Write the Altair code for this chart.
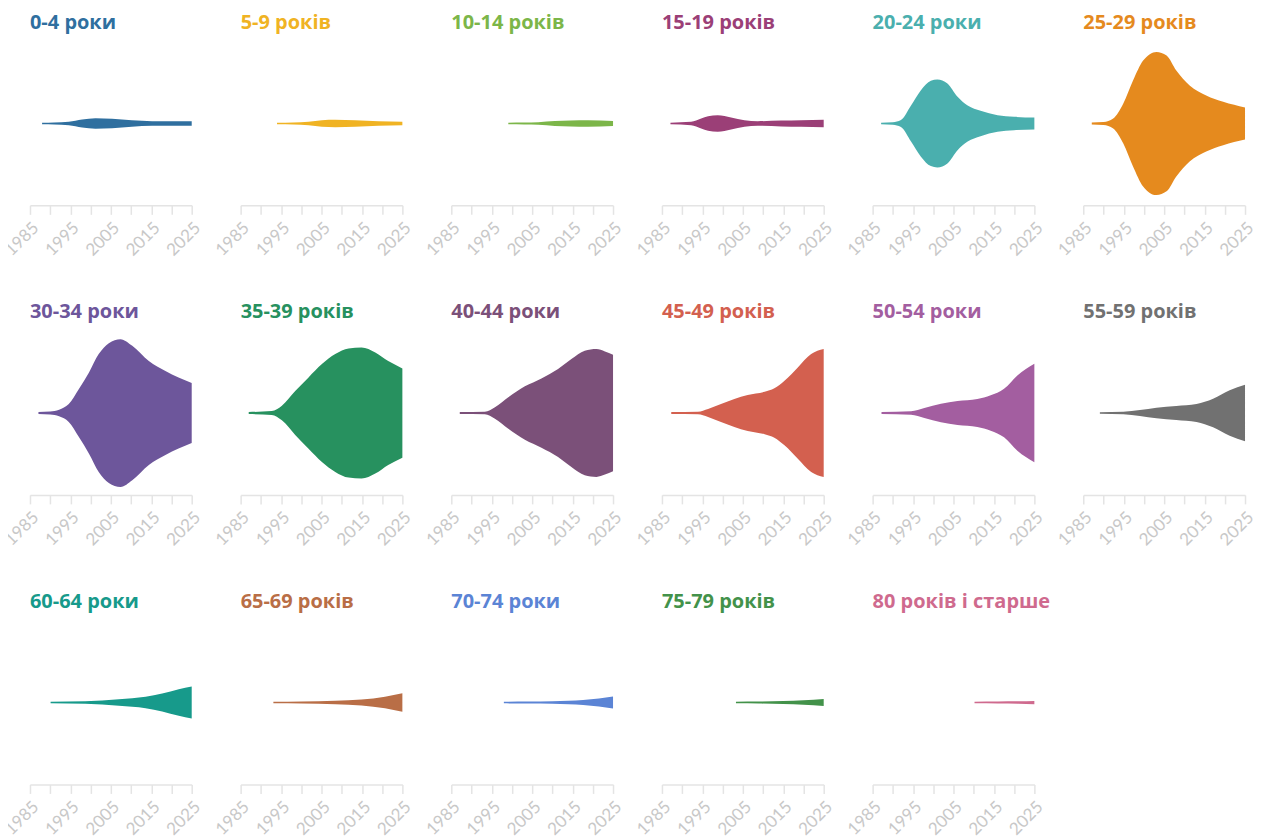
import altair as alt
import pandas as pd

# Half-width of each violin (relative units), per year
Y_00_04 = [1988, 1991, 1994.6, 1997.9, 2001.2, 2005.3, 2010.2, 2015.2, 2020, 2025]
V_00_04 = [0.8, 1.0, 1.7, 4.0, 5.2, 4.7, 3.3, 2.3, 2.2, 2.2]
Y_05_09 = [1994, 1998, 2001.8, 2005.1, 2008.4, 2013.3, 2019.1, 2025]
V_05_09 = [0.8, 1.0, 1.7, 3.3, 3.7, 3.3, 2.3, 1.8]
Y_10_14 = [1999.1, 2003, 2006.5, 2010.6, 2014.5, 2018.8, 2025]
V_10_14 = [0.8, 1.0, 1.3, 2.5, 3.0, 3.3, 2.5]
Y_15_19 = [1987.1, 1992.2, 1994.7, 1996.4, 1998.8, 2002.1, 2005.4, 2008.7, 2014.5, 2019.4, 2025]
V_15_19 = [0.8, 1.7, 5.0, 7.3, 8.3, 6.0, 3.3, 2.3, 3.0, 3.3, 3.7]
Y_20_24 = [1987.1, 1990, 1992.0, 1994.5, 1996.9, 1999.4, 2001.0, 2003.5, 2006.0, 2008.5, 2011.7, 2015.9, 2020.0, 2025]
V_20_24 = [0.8, 1.3, 3.5, 18, 33, 42.7, 44, 40, 26.7, 18, 12.7, 8.3, 6.7, 6.0]
Y_25_29 = [1987.1, 1990, 1992.4, 1994.9, 1997.3, 1999.8, 2003.1, 2005.6, 2008.0, 2011.3, 2015.4, 2019.6, 2025]
V_25_29 = [1.0, 1.5, 5, 20, 43, 63, 71.7, 68, 53, 38, 28, 21.7, 16]
Y_30_34 = [1987.1, 1990, 1992.2, 1994.6, 1997.1, 1999.6, 2002.0, 2004.5, 2007.4, 2010.3, 2014.4, 2018.5, 2025]
V_30_34 = [1.0, 1.5, 3.3, 9, 24, 40.7, 59, 70, 74, 67.3, 52, 42, 30]
Y_35_39 = [1987, 1992.7, 1995.2, 1998.5, 2001.8, 2005.1, 2008.4, 2011.7, 2014.9, 2018.3, 2021.5, 2025]
V_35_39 = [1.0, 2.0, 7.3, 22, 35.7, 49, 59, 64.7, 65.7, 60.7, 52, 44.7]
Y_40_44 = [1987.1, 1993.3, 1995.8, 1999.1, 2003.2, 2007.3, 2011.4, 2014.7, 2018.0, 2020.9, 2023, 2025]
V_40_44 = [1.0, 1.3, 5.7, 15.7, 26.7, 34.7, 44, 54, 62.3, 64, 61.7, 58.3]
Y_45_49 = [1987.3, 1993.9, 1996.4, 1999.6, 2002.9, 2006.2, 2010.4, 2012.8, 2015.3, 2018.6, 2021.9, 2025]
V_45_49 = [1.0, 1.3, 4, 9, 14, 18, 21.3, 24.7, 32.3, 45.7, 59, 64]
Y_50_54 = [1987.2, 1994.5, 1997.8, 2001.9, 2006.0, 2010.9, 2014.2, 2017.5, 2020.8, 2025]
V_50_54 = [1.0, 1.7, 5, 9.3, 12, 14, 17.7, 24.3, 37.7, 49.3]
Y_55_59 = [1989.1, 1994.9, 1999.0, 2003.1, 2008.0, 2013.0, 2017.1, 2021.2, 2025]
V_55_59 = [0.8, 1.3, 3, 5.3, 7, 9, 14.3, 22.7, 28.3]
Y_60_64 = [1990.1, 1998.7, 2007, 2013.6, 2017.7, 2021.8, 2025]
V_60_64 = [0.8, 1.3, 3.3, 5.7, 9, 13.3, 16]
Y_65_69 = [1993.1, 2000.1, 2008.4, 2014.9, 2020.7, 2025]
V_65_69 = [0.8, 1.0, 1.7, 3.0, 5.8, 9.3]
Y_70_74 = [1998, 2004, 2010, 2014, 2017.6, 2021.5, 2025]
V_70_74 = [0.8, 1.0, 1.3, 1.8, 2.5, 4.0, 6.0]
Y_75_79 = [2003.3, 2009, 2015, 2020, 2025]
V_75_79 = [0.8, 1.0, 1.5, 2.3, 3.5]
Y_80 = [2010.2, 2016, 2021, 2025]
V_80 = [0.8, 1.0, 1.2, 1.6]

LABELS = ["0-4 роки", "5-9 років", "10-14 років", "15-19 років", "20-24 роки", "25-29 років",
          "30-34 роки", "35-39 років", "40-44 роки", "45-49 років", "50-54 роки", "55-59 років",
          "60-64 роки", "65-69 років", "70-74 роки", "75-79 років", "80 років і старше"]
COLORS = ["#2f6f9f", "#f0b323", "#7cb649", "#9b3f77", "#4aafae", "#e58a1e",
          "#6d569b", "#27915f", "#7b5079", "#d3604f", "#a35ea0", "#717171",
          "#179a8b", "#b96e46", "#5b84d5", "#43924a", "#cf6a8e"]
YEARS = [Y_00_04, Y_05_09, Y_10_14, Y_15_19, Y_20_24, Y_25_29, Y_30_34, Y_35_39, Y_40_44,
         Y_45_49, Y_50_54, Y_55_59, Y_60_64, Y_65_69, Y_70_74, Y_75_79, Y_80]
VALUES = [V_00_04, V_05_09, V_10_14, V_15_19, V_20_24, V_25_29, V_30_34, V_35_39, V_40_44,
          V_45_49, V_50_54, V_55_59, V_60_64, V_65_69, V_70_74, V_75_79, V_80]

TICKS = [1985, 1990, 1995, 2000, 2005, 2010, 2015, 2020, 2025]
TITLE_FONT = "Open Sans"
LABEL_FONT = "Lato"

charts = []
for label, color, yrs, vals in zip(LABELS, COLORS, YEARS, VALUES):
    df = pd.DataFrame({"year": yrs, "v": vals})
    c = (
        alt.Chart(df)
        .transform_calculate(lo="-datum.v")
        .mark_area(interpolate="monotone", color=color, opacity=1)
        .encode(
            x=alt.X("year:Q",
                    scale=alt.Scale(domain=[1985, 2025], nice=False, zero=False),
                    axis=alt.Axis(values=TICKS, title=None, grid=False,
                                  labelExpr="(datum.value - 1985) % 10 == 0 ? datum.value : ''",
                                  labelAngle=-45, labelColor="#c8c8c8", labelFontSize=17,
                                  labelFont=LABEL_FONT, labelPadding=5,
                                  tickColor="#e4e4e4", tickSize=9, tickWidth=1.5,
                                  domainColor="#e4e4e4", domainWidth=1.5,
                                  labelOverlap=False, labelFlush=False)),
            y=alt.Y("v:Q", scale=alt.Scale(domain=[-82, 82]), axis=None),
            y2="lo:Q",
        )
        .properties(
            width=162, height=164,
            title=alt.TitleParams(label, color=color, anchor="start", fontSize=20,
                                  font=TITLE_FONT, fontWeight="bold", offset=9,
                                  frame="group"),
        )
    )
    charts.append(c)

chart = (
    alt.concat(*charts, columns=6, spacing={"row": 126, "column": 49}, bounds="flush")
    .properties(padding={"left": -7, "top": 4, "right": 5, "bottom": 5})
    .configure_view(strokeWidth=0)
)

chart.save("out.html", embed_options={"renderer": "svg", "actions": False})
